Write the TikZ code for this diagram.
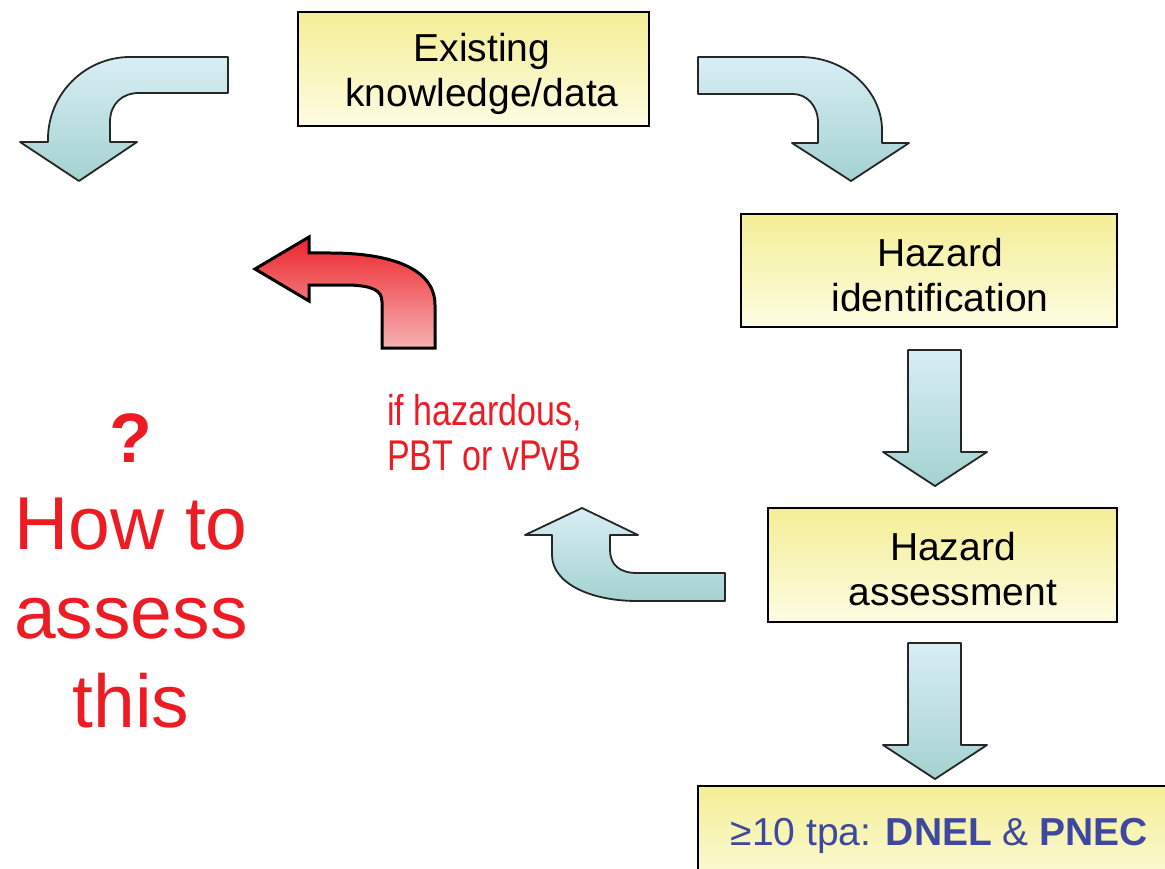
\documentclass[tikz,border=0pt]{standalone}
\usepackage{fontspec}
\setmainfont{Liberation Sans}
\newfontfamily\narrowsans[FakeStretch=0.79]{Liberation Sans}
\definecolor{boxtop}{RGB}{244,238,150}
\definecolor{boxbot}{RGB}{253,252,226}
\definecolor{arrtop}{RGB}{216,238,244}
\definecolor{arrbot}{RGB}{164,210,208}
\definecolor{redtop}{RGB}{236,36,42}
\definecolor{redbot}{RGB}{246,178,180}
\definecolor{alert}{RGB}{237,28,36}
\definecolor{navy}{RGB}{63,72,159}
\tikzset{
  stepbox/.style={draw=black, line width=2.5pt, top color=boxtop, bottom color=boxbot, inner sep=0pt},
  boxtext/.style={font=\fontsize{39}{45}\selectfont, align=center, inner sep=0pt},
  bluearrow/.style={draw=black!85, line width=1.8pt, top color=arrtop, bottom color=arrbot, line join=round},
  redarrow/.style={draw=black, line width=3pt, top color=redtop, bottom color=redbot, line join=miter},
  alerttext/.style={text=alert, inner sep=0pt},
}
\begin{document}
\begin{tikzpicture}[x=1pt,y=-1pt]
\clip (0,0) rectangle (1165,869);

% process boxes
\node[stepbox, minimum width=351pt, minimum height=114pt] (know) at (473.5,69) {};
\node[boxtext] (knowtxt) at (482,74) {Existing\\knowledge/data};

\node[stepbox, minimum width=376pt, minimum height=113pt] (ident) at (929,270.5) {};
\node[boxtext] (identtxt) at (940,275) {Hazard\\identification};

\node[stepbox, minimum width=349pt, minimum height=114pt] (assess) at (942.5,565) {};
\node[boxtext] (assesstxt) at (953,569) {Hazard\\assessment};

\node[stepbox, minimum width=482pt, minimum height=114pt] (result) at (939,843) {};
\node[boxtext, text=navy] (resulttxt) at (939.5,836) {≥10 tpa: \textbf{DNEL} \& \textbf{PNEC}};

% curved arrow leaving the knowledge box to the left
\path[bluearrow] (228,57) -- (130,57)
  .. controls (85,57) and (48,94) .. (48,139) -- (48,142) -- (20,142)
  -- (79,181) -- (137,142) -- (110,142) -- (110,122)
  .. controls (110,104) and (122,93) .. (139,93) -- (228,93) -- cycle;

% curved arrow from the knowledge box down to hazard identification
\path[bluearrow] (698,57) -- (800,57)
  .. controls (847,57) and (882,92) .. (882,130) -- (882,143) -- (909,143)
  -- (851,181) -- (792,143) -- (818,143) -- (818,123)
  .. controls (818,105) and (806,94) .. (793,94) -- (698,94) -- cycle;

% straight arrows down the right column
\path[bluearrow] (908,350) -- (961,350) -- (961,452) -- (987,452)
  -- (935,486) -- (883,452) -- (908,452) -- cycle;
\path[bluearrow] (908,643) -- (961,643) -- (961,745) -- (987,745)
  -- (935,779) -- (883,745) -- (908,745) -- cycle;

% arrow turning up out of hazard assessment
\path[bluearrow] (725,573) -- (725,601) -- (637,601)
  .. controls (590,601) and (552,583) .. (552,555) -- (552,535) -- (525,535)
  -- (582,508) -- (638,535) -- (610,535) -- (610,550)
  .. controls (610,565) and (620,573) .. (637,573) -- cycle;

% red arrow pointing back to the left
\path[redarrow] (382,348) -- (382,302)
  .. controls (382,290) and (372,286) .. (350,285) -- (309,285) -- (309,301)
  -- (255,269) -- (309,237) -- (309,253) -- (330,253)
  .. controls (390,253) and (435,268) .. (435,305) -- (435,348) -- cycle;

% texts
\node[alerttext, font=\narrowsans\fontsize{43}{45}\selectfont, align=left, anchor=base west] (cond) at (387,470) {if hazardous,\\PBT or vPvB};
\node[alerttext, font=\fontsize{70}{72}\selectfont\bfseries, anchor=base] (qmark) at (131,462) {?};
\node[alerttext, font=\fontsize{75}{89}\selectfont, align=center, anchor=north] (howto) at (131,498) {How to\\assess\\this};
\end{tikzpicture}
\end{document}
